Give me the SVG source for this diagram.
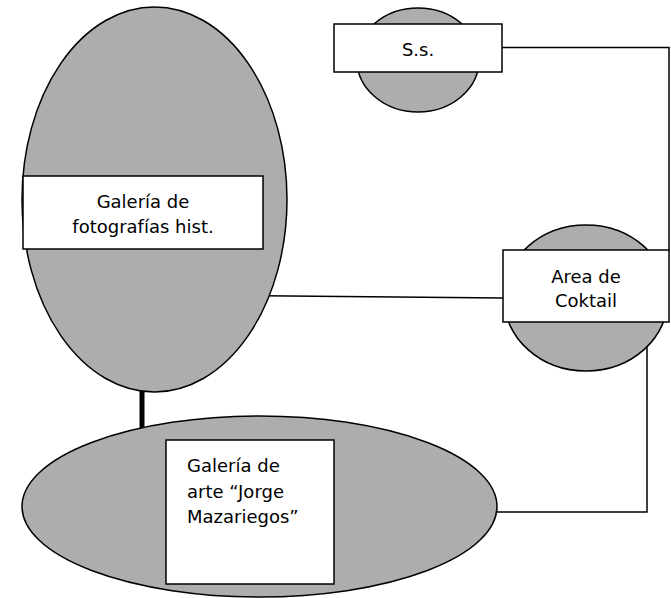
<svg xmlns="http://www.w3.org/2000/svg" width="671" height="598" viewBox="0 0 671 598">
<style>
.area{fill:#adadad;stroke:#000;stroke-width:1.5}
.box{fill:#fff;stroke:#000;stroke-width:1.5}
.lbl{font-family:"DejaVu Sans","Verdana",sans-serif;font-size:18px;fill:#000}
.mid{text-anchor:middle}
.conn{fill:none;stroke:#000;stroke-width:1.5}
</style>
<rect width="671" height="598" fill="#fff"/>
<g id="connectors">
<polyline class="conn" points="502,47.5 669,47.5 669,250"/>
<line class="conn" x1="262" y1="295.7" x2="503" y2="298"/>
<polyline class="conn" points="647,346 647,512 478,512"/>
<line x1="142" y1="390" x2="142" y2="440" stroke="#000" stroke-width="5"/>
</g>
<g id="node-ss">
<ellipse class="area" cx="418" cy="60" rx="61" ry="52"/>
<rect class="box" x="334" y="24" width="168" height="48"/>
<text class="lbl mid" x="418" y="56">S.s.</text>
</g>
<g id="node-fotos">
<ellipse class="area" cx="154.5" cy="199.5" rx="132.5" ry="192.5"/>
<rect class="box" x="23" y="176" width="240" height="73"/>
<text class="lbl mid" x="143" y="208">Galería de</text>
<text class="lbl mid" x="143" y="233">fotografías hist.</text>
</g>
<g id="node-coktail">
<ellipse class="area" cx="586" cy="298" rx="82" ry="73"/>
<rect class="box" x="503" y="250" width="166" height="72"/>
<text class="lbl mid" x="586" y="283">Area de</text>
<text class="lbl mid" x="586" y="307">Coktail</text>
</g>
<g id="node-arte">
<ellipse class="area" cx="259.5" cy="506.5" rx="237.5" ry="90.5"/>
<rect class="box" x="166" y="440" width="168" height="144"/>
<text class="lbl" x="187" y="472">Galería de</text>
<text class="lbl" x="187" y="498">arte “Jorge</text>
<text class="lbl" x="187" y="523">Mazariegos”</text>
</g>
</svg>
